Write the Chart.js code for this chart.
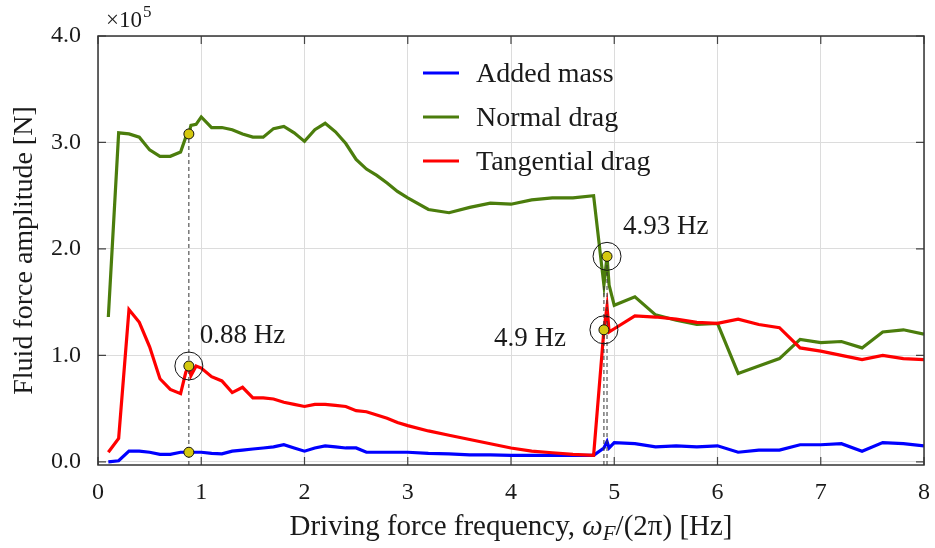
<!DOCTYPE html>
<html>
<head>
<meta charset="utf-8">
<script src="https://cdn.jsdelivr.net/npm/chart.js@4.4.1/dist/chart.umd.min.js"></script>
<style>
  body { margin: 0; background: #fff; }
</style>
</head>
<body>
<canvas id="fluidChart" width="935" height="548"></canvas>
<script>
// driving force frequency [Hz]
var freq = [0.1, 0.2, 0.3, 0.4, 0.5, 0.6, 0.7, 0.8, 0.85, 0.88, 0.9, 0.95,
  1.0, 1.1, 1.2, 1.3, 1.4, 1.5, 1.6, 1.7, 1.8, 1.9, 2.0, 2.1, 2.2, 2.3, 2.4, 2.5,
  2.6, 2.7, 2.8, 2.9, 3.0, 3.2, 3.4, 3.6, 3.8, 4.0, 4.2, 4.4, 4.6, 4.8,
  4.9, 4.93, 4.95, 5.0, 5.2, 5.4, 5.6, 5.8, 6.0, 6.2, 6.4, 6.6, 6.8, 7.0,
  7.2, 7.4, 7.6, 7.8, 8.0];

// fluid force amplitudes, in units of 1e5 N
var addedMass = [0.00, 0.01, 0.10, 0.10, 0.09, 0.07, 0.07, 0.09, 0.09, 0.09, 0.09, 0.09,
  0.09, 0.08, 0.075, 0.10, 0.11, 0.12, 0.13, 0.14, 0.16, 0.13, 0.10, 0.13, 0.15, 0.14, 0.13, 0.13,
  0.09, 0.09, 0.09, 0.09, 0.09, 0.08, 0.075, 0.065, 0.065, 0.06, 0.06, 0.06, 0.06, 0.06,
  0.13, 0.19, 0.13, 0.18, 0.17, 0.14, 0.15, 0.14, 0.15, 0.09, 0.11, 0.11, 0.16, 0.16,
  0.17, 0.10, 0.18, 0.17, 0.15];

var normalDrag = [1.36, 3.09, 3.08, 3.05, 2.93, 2.87, 2.87, 2.91, 3.05, 3.08, 3.16, 3.17,
  3.24, 3.14, 3.14, 3.12, 3.08, 3.05, 3.05, 3.13, 3.15, 3.09, 3.01, 3.12, 3.18, 3.10, 2.99, 2.84,
  2.75, 2.69, 2.62, 2.54, 2.48, 2.37, 2.34, 2.39, 2.43, 2.42, 2.46, 2.48, 2.48, 2.50,
  1.66, 1.93, 1.66, 1.47, 1.55, 1.38, 1.33, 1.29, 1.30, 0.83, 0.90, 0.97, 1.15, 1.12,
  1.13, 1.07, 1.22, 1.24, 1.20];

var tangentialDrag = [0.09, 0.22, 1.43, 1.31, 1.08, 0.78, 0.68, 0.64, 0.84, 0.90, 0.81, 0.90,
  0.88, 0.80, 0.76, 0.65, 0.70, 0.60, 0.60, 0.59, 0.56, 0.54, 0.52, 0.54, 0.54, 0.53, 0.52, 0.48,
  0.47, 0.44, 0.41, 0.37, 0.34, 0.29, 0.25, 0.21, 0.17, 0.13, 0.10, 0.085, 0.07, 0.06,
  1.24, 1.46, 1.22, 1.25, 1.37, 1.36, 1.34, 1.31, 1.30, 1.34, 1.29, 1.26, 1.07, 1.04,
  1.00, 0.96, 1.00, 0.97, 0.96];

var xTicks = [0, 1, 2, 3, 4, 5, 6, 7, 8];
var yTicks = [0, 1, 2, 3, 4];
var yMin = -0.03, yMax = 4.0;

// resonance frequencies picked out on the plot
var markFreqs = [0.88, 4.9, 4.93];
var markLabels = ['0.88 Hz', '4.9 Hz', '4.93 Hz'];

var BLUE = '#0000ff', GREEN = '#4b7d0c', RED = '#ff0000', DOT = '#d4c80f';
var SERIF = "'Liberation Serif', 'DejaVu Serif', serif";

function at(series, f) {
  return series[freq.indexOf(f)];
}
function toXY(series) {
  return freq.map(function(f, i) { return {x: f, y: series[i]}; });
}

var dots = [
  {x: 0.88, y: at(normalDrag, 0.88)},
  {x: 0.88, y: at(tangentialDrag, 0.88)},
  {x: 0.88, y: at(addedMass, 0.88)},
  {x: 4.9, y: at(tangentialDrag, 4.9)},
  {x: 4.93, y: at(normalDrag, 4.93)}
];
var rings = [
  {x: 0.88, y: at(tangentialDrag, 0.88)},
  {x: 4.9, y: at(tangentialDrag, 4.9)},
  {x: 4.93, y: at(normalDrag, 4.93)}
];

var guideSets = markFreqs.map(function(f) {
  return {
    type: 'line',
    data: [{x: f, y: yMin}, {x: f, y: at(normalDrag, f)}],
    borderColor: '#333',
    borderWidth: 1,
    borderDash: [4, 3],
    pointRadius: 0,
    order: 3
  };
});

function seriesSet(label, series, color, order) {
  return {
    type: 'line',
    label: label,
    data: toXY(series),
    borderColor: color,
    backgroundColor: color,
    borderWidth: 3.2,
    pointRadius: 0,
    tension: 0,
    order: order
  };
}

// inward ticks on all four sides plus the frame
var frame = {
  id: 'frame',
  beforeDatasetsDraw: function(chart) {
    var ctx = chart.ctx, a = chart.chartArea;
    var xs = chart.scales.x, ys = chart.scales.y;
    ctx.save();
    ctx.strokeStyle = '#444';
    ctx.lineWidth = 1.2;
    ctx.beginPath();
    xTicks.forEach(function(v) {
      var px = xs.getPixelForValue(v);
      ctx.moveTo(px, a.bottom); ctx.lineTo(px, a.bottom - 8);
      ctx.moveTo(px, a.top); ctx.lineTo(px, a.top + 8);
    });
    yTicks.forEach(function(v) {
      var py = ys.getPixelForValue(v);
      ctx.moveTo(a.left, py); ctx.lineTo(a.left + 8, py);
      ctx.moveTo(a.right, py); ctx.lineTo(a.right - 8, py);
    });
    ctx.stroke();
    ctx.restore();
  },
  afterDatasetsDraw: function(chart) {
    var ctx = chart.ctx, a = chart.chartArea;
    ctx.save();
    ctx.strokeStyle = '#333';
    ctx.lineWidth = 1.5;
    ctx.strokeRect(a.left, a.top, a.right - a.left, a.bottom - a.top);
    ctx.restore();
  }
};

// legend, axis titles, exponent and frequency labels
var overlay = {
  id: 'overlay',
  afterDraw: function(chart) {
    var ctx = chart.ctx, a = chart.chartArea;
    var xs = chart.scales.x, ys = chart.scales.y;
    ctx.save();
    ctx.fillStyle = '#1a1a1a';

    // legend
    var legendSets = chart.data.datasets.filter(function(d) { return d.label; });
    legendSets.forEach(function(d, i) {
      var y = 73 + i * 44;
      ctx.strokeStyle = d.borderColor;
      ctx.lineWidth = 3.2;
      ctx.beginPath();
      ctx.moveTo(423, y); ctx.lineTo(459, y);
      ctx.stroke();
      ctx.font = '28px ' + SERIF;
      ctx.textAlign = 'left';
      ctx.textBaseline = 'alphabetic';
      ctx.fillText(d.label, 476, y + 9);
    });

    // x10^5 exponent
    ctx.font = '23px ' + SERIF;
    ctx.textAlign = 'left';
    ctx.fillText('\u00d710', 106, 27);
    var w = ctx.measureText('\u00d710').width;
    ctx.font = '17px ' + SERIF;
    ctx.fillText('5', 106 + w + 1, 17);

    // y title
    ctx.save();
    ctx.translate(32, (a.top + a.bottom) / 2);
    ctx.rotate(-Math.PI / 2);
    ctx.font = '28px ' + SERIF;
    ctx.textAlign = 'center';
    ctx.fillText('Fluid force amplitude [N]', 0, 0);
    ctx.restore();

    // x title with italic omega_F
    var parts = [
      {t: 'Driving force frequency, ', f: '29px ' + SERIF, dy: 0},
      {t: '\u03c9', f: 'italic 29px ' + SERIF, dy: 0},
      {t: 'F', f: 'italic 21px ' + SERIF, dy: 5},
      {t: '/(2\u03c0) [Hz]', f: '29px ' + SERIF, dy: 0}
    ];
    var total = 0;
    parts.forEach(function(p) { ctx.font = p.f; p.w = ctx.measureText(p.t).width; total += p.w; });
    var x0 = (a.left + a.right) / 2 - total / 2;
    ctx.textAlign = 'left';
    parts.forEach(function(p) {
      ctx.font = p.f;
      ctx.fillText(p.t, x0, 535 + p.dy);
      x0 += p.w;
    });

    // frequency labels next to the circled points
    ctx.font = '27px ' + SERIF;
    var p0 = {x: xs.getPixelForValue(rings[0].x), y: ys.getPixelForValue(rings[0].y)};
    var p1 = {x: xs.getPixelForValue(rings[1].x), y: ys.getPixelForValue(rings[1].y)};
    var p2 = {x: xs.getPixelForValue(rings[2].x), y: ys.getPixelForValue(rings[2].y)};
    ctx.textAlign = 'left';
    ctx.fillText(markLabels[0], p0.x + 11, p0.y - 23);
    ctx.fillText(markLabels[2], p2.x + 16, p2.y - 22);
    ctx.textAlign = 'right';
    ctx.fillText(markLabels[1], p1.x - 38, p1.y + 16);
    ctx.restore();
  }
};

var ctx = document.getElementById('fluidChart').getContext('2d');
var chart = new Chart(ctx, {
  data: {
    datasets: [
      seriesSet('Added mass', addedMass, BLUE, 6),
      seriesSet('Normal drag', normalDrag, GREEN, 5),
      seriesSet('Tangential drag', tangentialDrag, RED, 4)
    ].concat(guideSets).concat([
      {
        type: 'scatter',
        data: rings,
        pointRadius: 14,
        pointBackgroundColor: 'rgba(0,0,0,0)',
        pointBorderColor: '#111',
        pointBorderWidth: 1,
        order: 2
      },
      {
        type: 'scatter',
        data: dots,
        pointRadius: 5,
        pointBackgroundColor: DOT,
        pointBorderColor: '#111',
        pointBorderWidth: 1,
        order: 1
      }
    ])
  },
  options: {
    responsive: false,
    animation: false,
    layout: { autoPadding: false, padding: { top: 36, right: 11, left: 0, bottom: 0 } },
    plugins: {
      legend: { display: false },
      tooltip: { enabled: false }
    },
    scales: {
      x: {
        type: 'linear',
        min: 0,
        max: 8,
        afterFit: function(scale) {
          scale.height = 83;
          scale.paddingLeft = 0;
          scale.paddingRight = 0;
        },
        afterBuildTicks: function(scale) {
          scale.ticks = xTicks.map(function(v) { return {value: v}; });
        },
        grid: { color: '#dcdcdc', lineWidth: 1, drawTicks: false },
        border: { display: false },
        ticks: {
          padding: 13,
          color: '#1a1a1a',
          font: { family: SERIF, size: 24 },
          callback: function(v) { return String(v); }
        }
      },
      y: {
        type: 'linear',
        min: yMin,
        max: yMax,
        afterFit: function(scale) {
          scale.width = 98;
          scale.paddingTop = 0;
          scale.paddingBottom = 0;
        },
        afterBuildTicks: function(scale) {
          scale.ticks = yTicks.map(function(v) { return {value: v}; });
        },
        grid: { color: '#dcdcdc', lineWidth: 1, drawTicks: false },
        border: { display: false },
        ticks: {
          padding: 17,
          color: '#1a1a1a',
          font: { family: SERIF, size: 24 },
          callback: function(v) { return v.toFixed(1); }
        }
      }
    }
  },
  plugins: [frame, overlay]
});
</script>
</body>
</html>
